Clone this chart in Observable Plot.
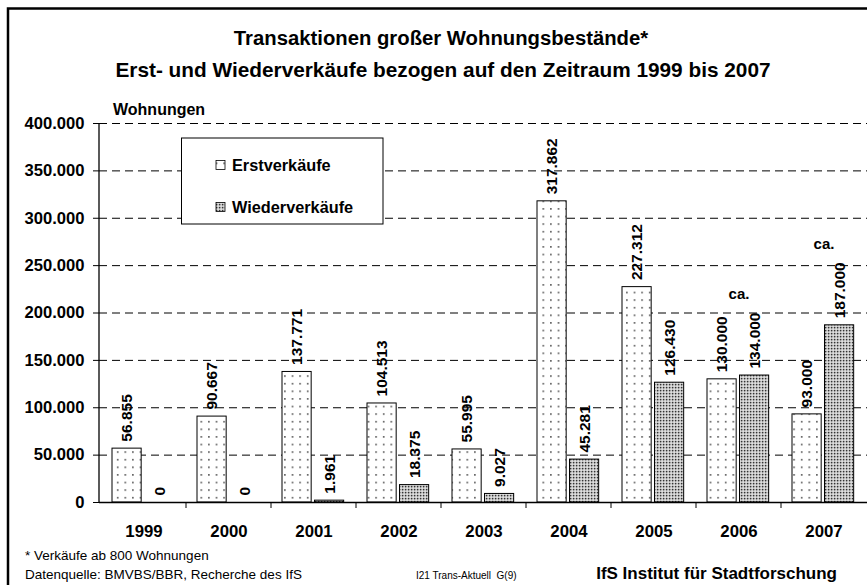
<!DOCTYPE html>
<html>
<head>
<meta charset="utf-8">
<script src="https://cdn.jsdelivr.net/npm/d3@7"></script>
<script src="https://cdn.jsdelivr.net/npm/@observablehq/plot@0.6"></script>
<style>
  html, body { margin: 0; padding: 0; background: #fff; }
  #chart { width: 867px; height: 585px; overflow: hidden; }
  svg { font-family: "Liberation Sans", Arial, sans-serif; }
</style>
</head>
<body>
<div id="chart"></div>
<script>
// ---- data ----
const years = ["1999", "2000", "2001", "2002", "2003", "2004", "2005", "2006", "2007"];
const erstverkaeufe = [56855, 90667, 137771, 104513, 55995, 317862, 227312, 130000, 93000];
const wiederverkaeufe = [0, 0, 1961, 18375, 9027, 45281, 126430, 134000, 187000];
const estimated = [false, false, false, false, false, false, false, true, true];
const seriesNames = ["Erstverkäufe", "Wiederverkäufe"];
const yTicks = [0, 50000, 100000, 150000, 200000, 250000, 300000, 350000, 400000];
const titleLines = ["Transaktionen großer Wohnungsbestände*", "Erst- und Wiederverkäufe bezogen auf den Zeitraum 1999 bis 2007"];
const yLabel = "Wohnungen";
const footnote = "* Verkäufe ab 800 Wohnungen";
const sourceText = "Datenquelle: BMVBS/BBR, Recherche des IfS";
const codeText = "I21 Trans-Aktuell  G(9)";
const creditText = "IfS Institut für Stadtforschung";
const estimateMark = "ca.";

const table = years.map((year, i) => ({
  year, erst: erstverkaeufe[i], wieder: wiederverkaeufe[i], est: estimated[i],
  top: Math.max(erstverkaeufe[i], wiederverkaeufe[i])
}));

const de = d3.formatLocale({decimal: ",", thousands: ".", grouping: [3], currency: ["", " €"]});
const fmt = de.format(",d");

const W = 867, H = 585;
const mL = 99, mR = 0, mT = 123, mB = 83;
const step = (W - mL - mR) / years.length;
const padL = 11, barW = 29.5, gap = 3;
const erstCenter = padL + barW / 2;
const wiedCenter = padL + barW + gap + barW / 2;
const FONT = "bold";

const plot = Plot.plot({
  width: W, height: H,
  marginLeft: mL, marginRight: mR, marginTop: mT, marginBottom: mB,
  x: {domain: years, padding: 0, label: null},
  y: {domain: [0, 400000], label: null},
  marks: [
    Plot.ruleY(yTicks.filter(d => d > 0), {stroke: "#000", strokeWidth: 1, strokeDasharray: "8,5"}),
    Plot.barY(table, {x: "year", y: "erst", fill: "url(#patErst)", stroke: "#000", strokeWidth: 1,
      insetLeft: padL, insetRight: step - padL - barW}),
    Plot.barY(table, {x: "year", y: "wieder", fill: "url(#patWieder)", stroke: "#000", strokeWidth: 1,
      insetLeft: padL + barW + gap, insetRight: step - padL - 2 * barW - gap}),
    Plot.ruleY([0], {stroke: "#000", strokeWidth: 1.3}),
    Plot.text(table, {x: "year", y: "erst", text: d => fmt(d.erst), rotate: -90, textAnchor: "start",
      dx: erstCenter - step / 2, dy: -7, fontSize: 15.5, fontWeight: FONT, fill: "#000"}),
    Plot.text(table, {x: "year", y: "wieder", text: d => fmt(d.wieder), rotate: -90, textAnchor: "start",
      dx: wiedCenter - step / 2, dy: -7, fontSize: 15.5, fontWeight: FONT, fill: "#000"}),
    Plot.text(table.filter(d => d.est), {x: "year", y: "top", text: () => estimateMark,
      dx: 0, dy: -81, fontSize: 15, fontWeight: FONT, fill: "#000"}),
    Plot.axisY({ticks: yTicks, tickFormat: fmt, tickSize: 6, tickPadding: 9, fontSize: 16.6, fontWeight: FONT, stroke: "#000", color: "#000", label: null}),
    Plot.axisX({tickSize: 0, tickPadding: 23, fontSize: 16.8, fontWeight: FONT, color: "#000", label: null})
  ]
});

const svg = d3.select(plot);
svg.style("font-family", "'Liberation Sans', Arial, sans-serif").style("color", "#000");

// patterns
const defs = svg.insert("defs", ":first-child");
const p1 = defs.append("pattern").attr("id", "patErst").attr("patternUnits", "userSpaceOnUse")
  .attr("width", 7.6).attr("height", 7.6);
p1.append("rect").attr("width", 7.6).attr("height", 7.6).attr("fill", "#fff");
p1.append("rect").attr("x", 3).attr("y", 3).attr("width", 1.4).attr("height", 1.4).attr("fill", "#222");
const p2 = defs.append("pattern").attr("id", "patWieder").attr("patternUnits", "userSpaceOnUse")
  .attr("width", 3).attr("height", 3);
p2.append("rect").attr("width", 3).attr("height", 3).attr("fill", "#c0c0c0");
p2.append("rect").attr("x", 0).attr("y", 0).attr("width", 1.3).attr("height", 1.3).attr("fill", "#333");
p2.append("rect").attr("x", 1.5).attr("y", 1.5).attr("width", 1.2).attr("height", 1.2).attr("fill", "#fff");

const xs = plot.scale("x"), ys = plot.scale("y");
const y0 = ys.apply(0), yTop = ys.apply(400000);

// y axis line
svg.append("line").attr("x1", mL).attr("x2", mL).attr("y1", yTop).attr("y2", y0)
  .attr("stroke", "#000").attr("stroke-width", 1.3);
// category boundary ticks
years.forEach((yr, i) => {
  if (i === 0) return;
  const x = xs.apply(yr);
  svg.append("line").attr("x1", x).attr("x2", x).attr("y1", y0).attr("y2", y0 + 6)
    .attr("stroke", "#000").attr("stroke-width", 1);
});

// outer frame
svg.append("rect").attr("x", 8).attr("y", 8.5).attr("width", 900).attr("height", 620)
  .attr("fill", "none").attr("stroke", "#000").attr("stroke-width", 2.5);

// titles
svg.append("text").attr("x", 441).attr("y", 45).attr("text-anchor", "middle")
  .attr("font-size", 20.3).attr("font-weight", "bold").text(titleLines[0]);
svg.append("text").attr("x", 443).attr("y", 77).attr("text-anchor", "middle")
  .attr("font-size", 20.8).attr("font-weight", "bold").text(titleLines[1]);
svg.append("text").attr("x", 113).attr("y", 115).attr("text-anchor", "start")
  .attr("font-size", 16).attr("font-weight", "bold").text(yLabel);

// legend
const lg = svg.append("g").attr("text-anchor", "start");
lg.append("rect").attr("x", 181.5).attr("y", 138).attr("width", 201.5).attr("height", 86)
  .attr("fill", "#fff").attr("stroke", "#000").attr("stroke-width", 1);
const pats = ["url(#patErst)", "url(#patWieder)"];
const ly = [165, 207];
seriesNames.forEach((name, i) => {
  lg.append("rect").attr("x", 216).attr("y", ly[i] - 4.5).attr("width", 9).attr("height", 9)
    .attr("fill", pats[i]).attr("stroke", "#000").attr("stroke-width", 0.8);
  lg.append("text").attr("x", 232).attr("y", ly[i] + 6).attr("text-anchor", "start")
    .attr("font-size", 16.3).attr("font-weight", "bold").text(name);
});

// footer
const ft = svg.append("g").attr("text-anchor", "start");
ft.append("text").attr("x", 25).attr("y", 560).attr("text-anchor", "start").attr("font-size", 13.5).text(footnote);
ft.append("text").attr("x", 25).attr("y", 579).attr("text-anchor", "start").attr("font-size", 13.5).text(sourceText);
ft.append("text").attr("x", 416).attr("y", 579).attr("text-anchor", "start").attr("font-size", 10).text(codeText);
ft.append("text").attr("x", 837).attr("y", 579).attr("text-anchor", "end")
  .attr("font-size", 17).attr("font-weight", "bold").text(creditText);

document.getElementById("chart").appendChild(plot);
</script>
</body>
</html>
